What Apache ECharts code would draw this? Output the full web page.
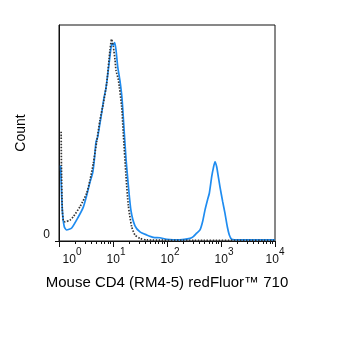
<!DOCTYPE html>
<html>
<head>
<meta charset="utf-8">
<script src="https://cdn.jsdelivr.net/npm/echarts@6/dist/echarts.min.js"></script>
<style>
  html, body { margin: 0; padding: 0; background: #fff; }
  #chart { width: 350px; height: 343px; }
</style>
</head>
<body>
<div id="chart"></div>
<script>
// x is in decades (log10 of intensity), y is count as % of the axis max
const decades = [0, 1, 2, 3, 4]
const yTicks = [0]

const stainedX = [0.03, 0.045, 0.065, 0.098, 0.14, 0.235, 0.357, 0.45, 0.524, 0.574, 0.624, 0.654, 0.685, 0.716, 0.759, 0.79, 0.833, 0.87, 0.913, 0.957, 0.981, 1.006, 1.031, 1.056, 1.087, 1.13, 1.167, 1.204, 1.241, 1.283, 1.333, 1.407, 1.5, 1.624, 1.747, 1.87, 1.994, 2.24, 2.426, 2.487, 2.55, 2.611, 2.66, 2.704, 2.75, 2.784, 2.828, 2.86, 2.889, 2.92, 2.95, 2.981, 3.031, 3.074, 3.117, 3.154, 3.198, 3.35, 4]
const stainedY = [35, 24, 13, 6.6, 5.1, 6, 11.1, 15.7, 22.2, 27.3, 31.5, 37.5, 45.8, 48.1, 54.6, 59.3, 66.2, 70.8, 79.2, 88.4, 91.5, 90.7, 91.8, 88.4, 80.7, 74, 66, 52, 38, 26, 14, 7, 4.2, 2.8, 1.7, 1.5, 0.8, 0.5, 1.2, 2.0, 3.6, 5.1, 9, 14.4, 19, 22.1, 29.8, 34, 36.7, 34.4, 29.8, 25.1, 18.2, 12.8, 6.6, 2.8, 0.8, 0.5, 0.5]

const isotypeX = [0.04, 0.045, 0.06, 0.08, 0.111, 0.204, 0.265, 0.389, 0.512, 0.574, 0.636, 0.698, 0.759, 0.821, 0.883, 0.944, 0.975, 1.006, 1.037, 1.056, 1.1, 1.161, 1.19, 1.241, 1.283, 1.346, 1.407, 1.5, 1.624, 2.5, 4]
const isotypeY = [50.6, 35, 15, 9.5, 8.9, 9.7, 11.3, 15.9, 22.1, 28.2, 36, 46, 56, 63.7, 73, 88.4, 93.4, 90, 84, 79, 74.5, 62, 50, 30, 16.5, 6.6, 2.8, 1.2, 0.5, 0.3, 0.3]

// minor ticks at 2..9 inside each decade
const minorTicks = []
decades.slice(0, -1).forEach(d => {
  for (let k = 2; k <= 9; k++) minorTicks.push(d + Math.log10(k))
})

const chart = echarts.init(document.getElementById('chart'), null, { renderer: 'canvas' })

const expLabel = v => {
  const pad = v === 0 ? '{w0| }' : v === 4 ? '' : '{w| }'
  return pad + '{b|10}{s|' + v + '}'
}

const font = 'Liberation Sans, Arial, sans-serif'

chart.setOption({
  animation: false,
  grid: { left: 59, top: 25, width: 216, height: 216, show: true, borderColor: '#111', borderWidth: 1 },
  xAxis: [{
    type: 'value', min: 0, max: 4, interval: 1, position: 'bottom',
    name: 'Mouse CD4 (RM4-5) redFluor™ 710', nameLocation: 'middle', nameGap: 34,
    nameTextStyle: { fontSize: 15, color: '#000', fontFamily: font },
    axisLine: { lineStyle: { color: '#111', width: 1 } },
    axisTick: { length: 6, lineStyle: { color: '#111' } },
    splitLine: { show: false },
    axisLabel: {
      margin: 6, color: '#111', fontFamily: font,
      formatter: expLabel,
      rich: {
        b: { fontSize: 12, lineHeight: 19, verticalAlign: 'bottom', color: '#111', fontFamily: font },
        s: { fontSize: 10, lineHeight: 19, verticalAlign: 'top', color: '#111', fontFamily: font },
        w: { width: 6 },
        w0: { width: 26 }
      }
    }
  }, {
    type: 'value', min: 0, max: 4, position: 'bottom', gridIndex: 0,
    axisLine: { show: false },
    axisLabel: { show: false },
    splitLine: { show: false },
    axisTick: { show: true, length: 3, customValues: minorTicks, lineStyle: { color: '#111' } }
  }],
  yAxis: {
    type: 'value', min: 0, max: 100, interval: 100,
    name: 'Count', nameLocation: 'middle', nameGap: 31, nameRotate: 90,
    nameTextStyle: { fontSize: 14, color: '#000', fontFamily: font },
    axisLine: { show: true, lineStyle: { color: '#111', width: 1 } },
    axisTick: { show: true, length: 4, customValues: yTicks, lineStyle: { color: '#111' } },
    splitLine: { show: false },
    axisLabel: { customValues: yTicks, fontSize: 12, margin: 9, color: '#111', verticalAlign: 'bottom', fontFamily: font }
  },
  series: [{
    type: 'line', name: 'stained', showSymbol: false, smooth: 0.2,
    data: stainedX.map((x, i) => [x, stainedY[i]]),
    lineStyle: { color: '#1f8cf0', width: 1.7 }, z: 2
  }, {
    type: 'line', name: 'isotype', showSymbol: false, smooth: 0.2,
    data: isotypeX.map((x, i) => [x, isotypeY[i]]),
    lineStyle: { color: '#333', width: 1.7, type: [1.5, 1.5] }, z: 3
  }]
})
</script>
</body>
</html>
